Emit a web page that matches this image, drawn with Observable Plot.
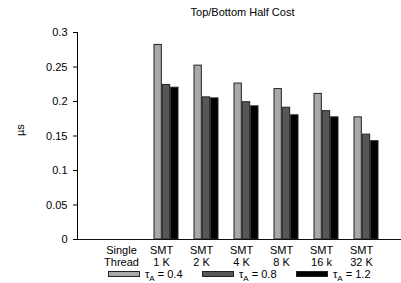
<!DOCTYPE html>
<html><head><meta charset="utf-8">
<script src="https://cdn.jsdelivr.net/npm/d3@7"></script>
<script src="https://cdn.jsdelivr.net/npm/@observablehq/plot@0.6"></script>
<style>
body{margin:0;background:#fff;font-family:"Liberation Sans",Arial,sans-serif;}
#wrap{position:relative;width:401px;height:283px;overflow:hidden;}
#wrap svg{position:absolute;top:0;left:0;}
#legend{position:absolute;top:268px;left:0;width:401px;height:12px;font-size:11px;line-height:12px;color:#000;}
.item{position:absolute;top:0;height:12px;display:flex;align-items:center;white-space:nowrap;}
.sw{width:30px;height:4px;border:1px solid #222;margin-right:5px;}
sub{font-size:8px;vertical-align:-3px;line-height:0;}
</style></head><body><div id="wrap"></div>
<script>
const categories = ["Single Thread","SMT 1 K","SMT 2 K","SMT 4 K","SMT 8 K","SMT 16 k","SMT 32 K"];
const seriesNames = ["0.4","0.8","1.2"];
const tau04 = [null,0.282,0.252,0.226,0.218,0.211,0.177];
const tau08 = [null,0.224,0.206,0.199,0.191,0.186,0.152];
const tau12 = [null,0.220,0.2045,0.193,0.180,0.177,0.1425];
const yTicks = [0,0.05,0.1,0.15,0.2,0.25,0.3];
const yTickLabels = ["0","0.05","0.1","0.15","0.2","0.25","0.3"];
const colors = ["#a9a9a9","#575757","#000000"];
const title = "Top/Bottom Half Cost";
const yLabel = "µs";

const valuesBySeries = [tau04, tau08, tau12];
const rows = [];
valuesBySeries.forEach((vals, k) => vals.forEach((v, i) => {
  if (v != null) rows.push({category: categories[i], series: seriesNames[k], k, value: v});
}));

const xRange = [111, 381.5];
const paddingInner = 0.389;
const step = (xRange[1] - xRange[0]) / (categories.length - paddingInner);
const bw = step * (1 - paddingInner);
const w = bw / 3;

const bars = [0,1,2].map(k => Plot.barY(rows.filter(r => r.k === k), {
  x: "category", y: "value", fill: colors[k], stroke: "#222", strokeWidth: 1,
  insetLeft: k * w, insetRight: (2 - k) * w
}));

const chart = Plot.plot({
  width: 401, height: 270,
  marginLeft: 77, marginRight: 0, marginTop: 32, marginBottom: 31,
  style: {fontSize: "11px", fontFamily: "Liberation Sans, Arial, sans-serif", color: "#000", background: "transparent"},
  x: {domain: categories, range: xRange, paddingInner, paddingOuter: 0, axis: null},
  y: {domain: [0, 0.3], ticks: yTicks, tickFormat: d => yTickLabels[yTicks.indexOf(d)], line: true, tickSize: 4, tickPadding: 6, label: null},
  marks: [
    ...bars,
    Plot.ruleY([0], {stroke: "#111", strokeWidth: 1.2}),
    Plot.axisX({tickSize: 0, tickPadding: 6, dx: -5, lineHeight: 1.1, label: null, tickFormat: d => d.replace(" ", "\n")}),
    Plot.text([yLabel], {text: d => d, frameAnchor: "left", dx: -57, rotate: -90}),
    Plot.text([title], {text: d => d, frameAnchor: "top", dy: -17, dx: 3, lineAnchor: "bottom"})
  ]
});
const wrap = document.getElementById("wrap");
wrap.appendChild(chart);

const legend = document.createElement("div");
legend.id = "legend";
const lefts = [108, 202, 296];
seriesNames.forEach((s, k) => {
  const it = document.createElement("div");
  it.className = "item";
  it.style.left = lefts[k] + "px";
  it.innerHTML = `<span class="sw" style="background:${colors[k]}"></span><span>τ<sub>A</sub> = ${s}</span>`;
  legend.appendChild(it);
});
wrap.appendChild(legend);
</script></body></html>
